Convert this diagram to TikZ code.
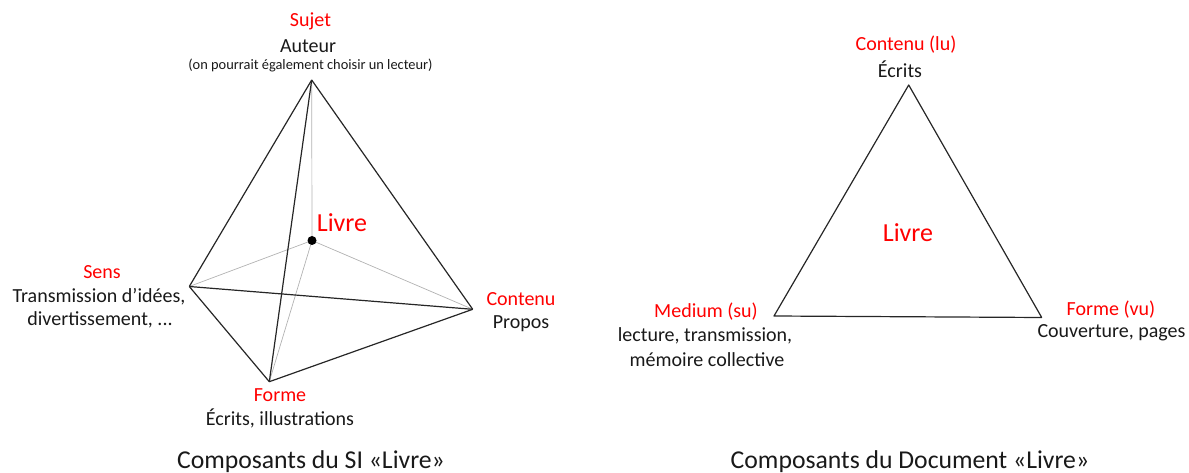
\documentclass[tikz,border=0pt]{standalone}
\usepackage{fontspec}
\setmainfont{Carlito}
\begin{document}
\begin{tikzpicture}[x=1pt,y=-1pt,
  edge/.style={draw=black!85,line width=1.2pt,line join=round},
  hidden/.style={draw=black!30,line width=0.7pt},
  role/.style={text=red,font=\fontsize{20}{22}\selectfont,inner sep=0pt},
  desc/.style={text=black!90,font=\fontsize{20}{22}\selectfont,inner sep=0pt},
  note/.style={text=black!90,font=\fontsize{14.4}{16}\selectfont,inner sep=0pt},
  centre/.style={text=red,font=\fontsize{26}{28}\selectfont,inner sep=0pt},
  caption/.style={text=black!90,font=\fontsize{25.7}{28}\selectfont,inner sep=0pt}]
\useasboundingbox (0,0) rectangle (1189,473);

% Tetrahedron of the SI
\coordinate (T) at (311.7,80);
\coordinate (C) at (312,240.5);
\coordinate (L) at (189.3,286.5);
\coordinate (R) at (472.7,309.3);
\coordinate (B) at (269.3,381.7);

\draw[hidden] (C) -- (T);
\draw[hidden] (C) -- (L);
\draw[hidden] (C) -- (R);
\draw[hidden] (C) -- (B);
\draw[edge] (T) -- (L);
\draw[edge] (T) -- (R);
\draw[edge] (T) -- (B);
\draw[edge] (L) -- (R);
\draw[edge] (L) -- (B);
\draw[edge] (B) -- (R);
\fill (C) circle (4.5pt);

\node[role] (sujet) at (310.5,21) {Sujet};
\node[desc] (auteur) at (308,46) {Auteur};
\node[note] (lecteur) at (310.5,65) {(on pourrait également choisir un lecteur)};
\node[centre] (livre1) at (342,223) {Livre};
\node[role] (sens) at (102,272) {Sens};
\node[desc] (sens1) at (99,297) {Transmission d’idées,};
\node[desc] (sens2) at (100,320) {divertissement, ...};
\node[role] (contenu) at (521,299) {Contenu};
\node[desc] (propos) at (521,324) {Propos};
\node[role] (forme) at (280,395) {Forme};
\node[desc] (ecrits1) at (280,418) {Écrits, illustrations};
\node[caption] (cap1) at (311,462) {Composants du SI «Livre»};

% Triangle of the document
\coordinate (DT) at (908.7,85);
\coordinate (DL) at (774,316);
\coordinate (DR) at (1041.7,317.5);
\draw[edge] (DT) -- (DR) -- (DL) -- cycle;

\node[role] (contenulu) at (906,45) {Contenu (lu)};
\node[desc] (ecrits2) at (900,69) {Écrits};
\node[centre] (livre2) at (908,233) {Livre};
\node[role] (medium) at (706,312) {Medium (su)};
\node[desc] (med1) at (705,336) {lecture, transmission,};
\node[desc] (med2) at (707,360) {mémoire collective};
\node[role] (formevu) at (1111,310) {Forme (vu)};
\node[desc] (couv) at (1111.5,333) {Couverture, pages};
\node[caption] (cap2) at (910,462) {Composants du Document «Livre»};
\end{tikzpicture}
\end{document}
